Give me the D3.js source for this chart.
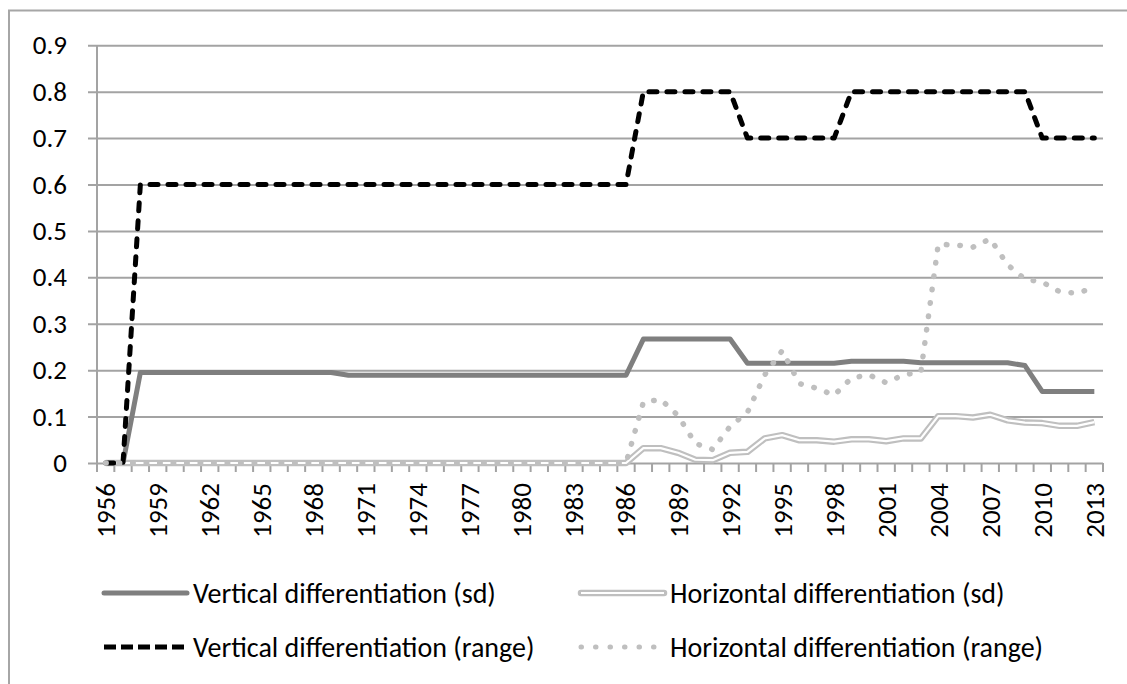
<!DOCTYPE html>
<html>
<head>
<meta charset="utf-8">
<script src="https://cdn.jsdelivr.net/npm/d3@7"></script>
<style>
  body { margin: 0; background: #fff; }
  svg text { font-family: Carlito, Calibri, Lato, sans-serif; fill: #000; }
</style>
</head>
<body>
<svg id="chart" width="1127" height="684"></svg>
<script>
// years on the category axis
const years = d3.range(1956, 2014);

// series values, one per year 1956..2013
const vertSd = [
  0, 0, 0.195, 0.195, 0.195, 0.195, 0.195, 0.195, 0.195, 0.195,
  0.195, 0.195, 0.195, 0.195, 0.189, 0.189, 0.189, 0.189, 0.189, 0.189,
  0.189, 0.189, 0.189, 0.189, 0.189, 0.189, 0.189, 0.189, 0.189, 0.189,
  0.189, 0.267, 0.267, 0.267, 0.267, 0.267, 0.267, 0.215, 0.215, 0.215,
  0.215, 0.215, 0.215, 0.219, 0.219, 0.219, 0.219, 0.216, 0.216, 0.216,
  0.216, 0.216, 0.216, 0.21, 0.154, 0.154, 0.154, 0.154
];
const horzSd = [
  0, 0, 0, 0, 0, 0, 0, 0, 0, 0,
  0, 0, 0, 0, 0, 0, 0, 0, 0, 0,
  0, 0, 0, 0, 0, 0, 0, 0, 0, 0,
  0, 0.032, 0.032, 0.022, 0.007, 0.006, 0.022, 0.024, 0.053, 0.06,
  0.049, 0.049, 0.046, 0.051, 0.051, 0.047, 0.053, 0.053, 0.101, 0.101,
  0.098, 0.104, 0.092, 0.087, 0.086, 0.08, 0.08, 0.088
];
const vertRange = [
  0, 0, 0.6, 0.6, 0.6, 0.6, 0.6, 0.6, 0.6, 0.6,
  0.6, 0.6, 0.6, 0.6, 0.6, 0.6, 0.6, 0.6, 0.6, 0.6,
  0.6, 0.6, 0.6, 0.6, 0.6, 0.6, 0.6, 0.6, 0.6, 0.6,
  0.6, 0.8, 0.8, 0.8, 0.8, 0.8, 0.8, 0.7, 0.7, 0.7,
  0.7, 0.7, 0.7, 0.8, 0.8, 0.8, 0.8, 0.8, 0.8, 0.8,
  0.8, 0.8, 0.8, 0.8, 0.7, 0.7, 0.7, 0.7
];
const horzRange = [
  0, 0, 0, 0, 0, 0, 0, 0, 0, 0,
  0, 0, 0, 0, 0, 0, 0, 0, 0, 0,
  0, 0, 0, 0, 0, 0, 0, 0, 0, 0,
  0, 0.131, 0.137, 0.102, 0.042, 0.029, 0.079, 0.109, 0.19, 0.242,
  0.171, 0.161, 0.146, 0.183, 0.19, 0.173, 0.19, 0.196, 0.471, 0.47,
  0.465, 0.483, 0.427, 0.396, 0.39, 0.369, 0.366, 0.378
];

const yTicks = [0, 0.1, 0.2, 0.3, 0.4, 0.5, 0.6, 0.7, 0.8, 0.9];
const seriesNames = [
  "Vertical differentiation (sd)",
  "Horizontal differentiation (sd)",
  "Vertical differentiation (range)",
  "Horizontal differentiation (range)"
];

const svg = d3.select("#chart");
const plot = {left: 97, right: 1103, top: 45.3, bottom: 463};
const gridColor = "#a3a3a3";
const fontSize = 27;

// outer chart frame (left and top edges only are in view)
svg.append("path")
    .attr("d", "M9,684 L9,10.5 L1127,10.5")
    .attr("fill", "none")
    .attr("stroke", "#a6a6a6")
    .attr("stroke-width", 2);

let x = d3.scaleBand()
    .domain(years)
    .range([plot.left, plot.right]);

let y = d3.scaleLinear()
    .domain([0, 0.9])
    .range([plot.bottom, plot.top]);

// horizontal gridlines + y axis labels
let yAxis = d3.axisLeft(y)
    .tickValues(yTicks)
    .tickFormat(d => d === 0 ? "0" : d3.format(".1f")(d))
    .tickSize(-(plot.right - plot.left))
    .tickPadding(30);

let gy = svg.append("g")
    .attr("transform", "translate(" + plot.left + ",0)")
    .call(yAxis);
gy.select(".domain").remove();
gy.selectAll(".tick line")
    .attr("x1", -9)
    .attr("stroke", gridColor)
    .attr("stroke-width", 2);
gy.selectAll(".tick text")
    .attr("font-size", fontSize)
    .attr("font-family", "Carlito, Calibri, Lato, sans-serif");

// vertical axis line
svg.append("line")
    .attr("x1", plot.left).attr("x2", plot.left)
    .attr("y1", plot.top).attr("y2", plot.bottom + 9)
    .attr("stroke", gridColor)
    .attr("stroke-width", 2);

// category axis: tick marks between categories, label every third year
let boundaries = years.map(d => x(d)).concat([plot.right]);
svg.append("g").selectAll("line")
    .data(boundaries.slice(1))
    .join("line")
    .attr("x1", d => d).attr("x2", d => d)
    .attr("y1", plot.bottom).attr("y2", plot.bottom + 9)
    .attr("stroke", gridColor)
    .attr("stroke-width", 2);

svg.append("g").selectAll("text")
    .data(years.filter((d, i) => i % 3 === 0))
    .join("text")
    .attr("transform", d => "translate(" + (x(d) + x.bandwidth() / 2) + "," + (plot.bottom + 20) + ") rotate(-90)")
    .attr("text-anchor", "end")
    .attr("dy", "0.35em")
    .attr("font-size", fontSize)
    .text(d => d);

// series lines
let line = d3.line()
    .x((d, i) => x(years[i]) + x.bandwidth() / 2)
    .y(d => y(d));

svg.append("path")
    .attr("d", line(vertSd))
    .attr("fill", "none")
    .attr("stroke", "#7f7f7f")
    .attr("stroke-width", 5)
    .attr("stroke-linejoin", "round");

svg.append("path")
    .attr("d", line(horzSd))
    .attr("fill", "none")
    .attr("stroke", "#bfbfbf")
    .attr("stroke-width", 6.5)
    .attr("stroke-linejoin", "round");
svg.append("path")
    .attr("d", line(horzSd))
    .attr("fill", "none")
    .attr("stroke", "#fff")
    .attr("stroke-width", 2.2)
    .attr("stroke-linejoin", "round");

svg.append("path")
    .attr("d", line(vertRange))
    .attr("fill", "none")
    .attr("stroke", "#000")
    .attr("stroke-width", 5)
    .attr("stroke-dasharray", "8 10")
    .attr("stroke-linecap", "round")
    .attr("stroke-linejoin", "round");

svg.append("path")
    .attr("d", line(horzRange))
    .attr("fill", "none")
    .attr("stroke", "#bfbfbf")
    .attr("stroke-width", 5.5)
    .attr("stroke-dasharray", "0.5 13")
    .attr("stroke-linecap", "round");

// legend, two rows of two
let legendPos = [
    {lx: 104, ly: 593}, {lx: 581, ly: 593},
    {lx: 104, ly: 647}, {lx: 581, ly: 647}
];
let legendStyle = [
    {stroke: "#7f7f7f", width: 5, dash: null, cap: "round"},
    {stroke: "#bfbfbf", width: 6.5, dash: null, cap: "round", inner: true},
    {stroke: "#000", width: 5, dash: "12 5", cap: "butt"},
    {stroke: "#bfbfbf", width: 5, dash: "0.5 14", cap: "round"}
];

let legend = svg.append("g").selectAll("g")
    .data(seriesNames)
    .join("g")
    .attr("transform", (d, i) => "translate(" + legendPos[i].lx + "," + legendPos[i].ly + ")");

legend.append("line")
    .attr("x1", 0).attr("x2", 83)
    .attr("stroke", (d, i) => legendStyle[i].stroke)
    .attr("stroke-width", (d, i) => legendStyle[i].width)
    .attr("stroke-dasharray", (d, i) => legendStyle[i].dash)
    .attr("stroke-linecap", (d, i) => legendStyle[i].cap);
legend.filter((d, i) => legendStyle[i].inner)
    .append("line")
    .attr("x1", 0).attr("x2", 83)
    .attr("stroke", "#fff")
    .attr("stroke-width", 2.2);

legend.append("text")
    .attr("x", 89)
    .attr("dy", "0.35em")
    .attr("font-size", 28)
    .text(d => d);
</script>
</body>
</html>
